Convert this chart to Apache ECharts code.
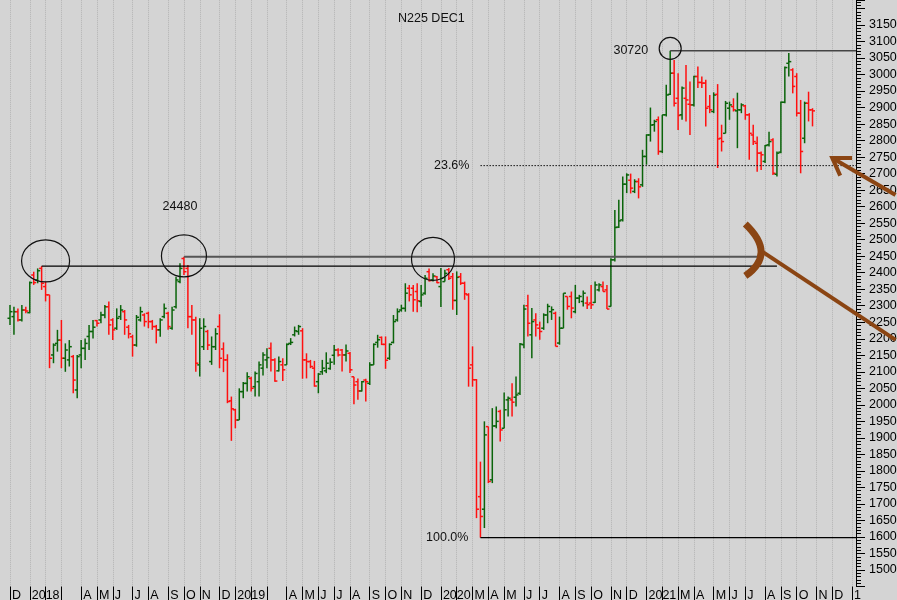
<!DOCTYPE html>
<html><head><meta charset="utf-8">
<script src="https://cdn.jsdelivr.net/npm/echarts@6/dist/echarts.min.js"></script>
<style>html,body{margin:0;padding:0;background:#d4d4d4;}#c{width:897px;height:600px;}</style>
</head><body><div id="c"></div>
<script>
// ---- weekly categories (Friday-dated bars) ----
const firstWeek = '2017-12-01';
const lastWeek = '2022-01-14';
const skippedWeeks = ['2019-05-03'];
const weekMonthOverrides = {'2020-01-03': '2019-12', '2021-01-01': '2020-12'};
const monthLabels = ['D',
  '2018','','','A','M','J','J','A','S','O','N','D',
  '2019','','','A','M','J','J','A','S','O','N','D',
  '2020','','M','A','M','J','J','A','S','O','N','D',
  '2021','','M','A','M','J','J','A','S','O','N','D',
  '1'];

// ---- weekly OHLC ----
const opens = [22620,22670,22820,22570,22870,22790,23930,23780,24130,23580,23330,21510,21860,21960,21410,21360,21460,20450,21510,21710,22070,22220,22550,22570,22720,22970,22570,22320,22670,22820,22350,22060,21810,22570,22720,22770,22520,22370,22270,22670,22770,22320,22970,23730,24430,24130,22670,22570,21210,21760,22220,21310,21760,22370,
21690,21360,20120,19850,19540,20400,20650,20800,20550,20700,21110,21360,21710,21360,21030,21210,21210,21860,22120,22220,22240,21360,21310,21110,20700,21000,21030,21100,21500,21660,21660,21510,21560,20850,20700,20420,20750,20650,21210,21890,22040,21830,21410,21890,22570,22870,22920,23530,23530,23430,23130,23380,24030,23780,23880,
23580,23730,24090,23880,23160,23880,23680,23330,21210,20760,17220,16840,19340,17730,19360,19800,19290,20150,20150,20230,20350,21820,23000,22120,22570,22320,22320,22720,22820,22770,21870,22320,23280,23280,22820,23230,23130,23080,23080,23100,23480,23580,23480,22980,24390,25380,25600,26680,
26800,26460,26760,26660,27520,28170,28480,28630,27670,28780,29400,30040,29280,28780,29280,29100,29080,29940,29760,29740,29030,28880,29400,28070,28220,28980,29030,28900,28930,29050,28780,28170,27920,27620,27370,27870,28020,26980,27650,29160,30340,30140,29940,28830,28070,29130,28930];
const highs = [23020,22970,22920,23020,22970,23730,24030,24130,24200,23730,23330,21860,22270,22570,21860,21960,21510,21510,21960,22010,22420,22570,22570,22820,23020,23130,22620,22920,23020,22870,22420,22120,22720,22970,22770,22820,22570,22420,22620,23070,22820,22970,23880,24290,24480,24230,23020,22670,22620,22620,22270,22070,22320,22740,
21890,21530,20250,19880,20500,20690,20990,20850,21010,21310,21590,21710,21890,21410,21460,21410,21860,22020,22370,22420,22320,21560,21360,21330,20960,21360,21590,21410,21810,21710,21690,21830,21600,20850,20800,20720,20790,21290,21860,22120,22070,22070,21860,22720,22920,23030,23680,23630,23630,23680,23630,23930,24130,23980,23900,
24140,24090,24140,23990,24040,23990,23730,23380,21770,20780,18280,19500,19340,19900,19950,19850,20370,20250,20650,20860,21870,23030,23330,22930,22770,22520,22770,23060,22980,22820,22670,23380,23280,23430,23630,23330,23460,23280,23630,23730,23680,23730,23630,24440,25900,26210,26910,27010,
27000,26830,26860,27720,28190,29000,28630,28730,28780,29690,30720,30440,30040,29640,30290,29790,29960,30240,29940,29840,29380,29460,29710,28480,29200,29180,29280,29450,29130,29080,28830,28480,28120,27670,27870,28270,28070,27670,29180,30240,30650,30190,30040,29230,29180,29480,28980];
const lows = [22420,22120,22520,22520,22770,22770,23630,23680,23480,23130,21110,21260,21610,21110,21000,21160,20350,20200,21110,21360,21660,22010,22370,22470,22620,22120,21960,22270,22570,22120,22010,21460,21760,22520,22370,22320,22270,21860,22060,22620,22270,22270,22920,23680,23930,22320,22120,21000,20860,21660,21660,21210,21660,21110,
20990,20050,18910,19290,19540,20200,20400,20400,20250,20250,20890,21110,21010,20700,21010,20720,21210,21810,22070,22120,20790,20800,21110,20550,20350,20910,20960,21060,21210,21460,21010,21310,20960,20020,20150,20400,20100,20600,21210,21730,21810,21090,21360,21860,22520,22820,22820,23130,22820,22800,22970,23330,23730,23730,23680,
22960,23730,23780,22880,22720,23630,23180,20550,20550,16570,15980,16270,17630,17630,19290,18890,19290,19650,19650,19950,20300,21710,22070,21410,22070,21970,22270,22470,22570,21770,21820,22320,22880,22620,22770,23080,22980,22900,22900,23080,23430,23430,22900,22980,24340,25350,25550,26410,
26400,26410,26250,26600,27270,27970,28270,27570,27620,28730,29380,29030,28320,28630,28580,28170,29030,29590,29590,28430,28830,28830,27170,27670,28220,28630,28880,27770,28830,28630,27420,27870,27060,27110,27320,27820,26960,26910,27620,29130,29940,29430,28730,27010,27920,28580,28430];
const closes = [22820,22820,22570,22870,22840,23700,23700,24060,23680,23330,21410,21810,21960,21410,21660,21760,20750,21460,21710,21860,22220,22350,22470,22720,22970,22420,22270,22620,22870,22570,22150,21810,22650,22820,22520,22520,22370,22270,22570,22920,22370,22870,23780,24130,24030,22670,22570,21260,22320,22370,21810,21760,22150,21410,
21360,20100,19880,19540,20400,20650,20850,20500,20950,21210,21510,21430,21360,20720,21310,21060,21830,21890,22240,22370,21360,21310,21160,20570,20930,21110,21260,21290,21660,21510,21510,21630,21060,20600,20420,20700,20700,21210,21830,21970,21830,21350,21830,22520,22820,22920,23380,23330,23180,23150,23330,23830,23760,23900,23700,
23830,23980,23830,23160,23860,23680,23360,21110,20760,16840,16620,19090,17680,19360,19500,19240,19850,20200,20080,20300,21840,22900,22470,22520,22420,22220,22720,22980,22880,21770,22320,23380,22980,22930,23230,23280,23380,23030,23030,23630,23630,23430,22900,24390,25370,25570,26680,26960,
26560,26760,26600,27520,28170,28470,28580,27670,28780,29380,30040,29130,28760,29590,29230,29080,29940,29760,29740,28980,28930,29380,28050,27970,29130,29080,28930,28930,29080,28780,28220,27970,27620,27570,27850,27970,27010,27620,29160,30210,30390,29640,28830,27670,29130,28930,28900];

// ---- annotation levels (prices) ----
const peakPrice = 30720;
const octPeak2018 = 24480;
const janPeak2018 = 24200;
const lowPrice = 15980;
const fib236 = peakPrice - 0.236 * (peakPrice - lowPrice);

// ---- build weeks ----
function ymd(d){return d.toISOString().slice(0,10);}
const weeks = [];
const weekMonth = [];
for (let d = new Date(firstWeek + 'T00:00:00Z'); ymd(d) <= lastWeek; d = new Date(d.getTime() + 7*86400000)) {
  const s = ymd(d);
  if (skippedWeeks.includes(s)) continue;
  weeks.push(s);
  weekMonth.push(weekMonthOverrides[s] || s.slice(0,7));
}
const labelByIndex = {};
let m = 0;
for (let i = 0; i < weeks.length; i++) {
  if (i === 0 || weekMonth[i] !== weekMonth[i-1]) {
    if (m < monthLabels.length) labelByIndex[i] = monthLabels[m];
    m++;
  }
}
const isMonthStart = (idx) => Object.prototype.hasOwnProperty.call(labelByIndex, idx);

const ohlc = opens.map((o, i) => [i, o, highs[i], lows[i], closes[i]]);
const week = (s) => weeks.indexOf(s);

const GREEN = '#0a640a', RED = '#ff1010', BROWN = '#8b4513';
const FAMILY = "'Liberation Sans', Arial, sans-serif";
const FONT = "12.5px " + FAMILY;

const chart = echarts.init(document.getElementById('c'), null, {renderer: 'canvas'});
chart.setOption({
  animation: false,
  backgroundColor: '#d4d4d4',
  title: {text: 'N225 DEC1', left: 393, top: 7,
    textStyle: {fontSize: 12.5, fontWeight: 'normal', color: '#111', fontFamily: FAMILY}},
  grid: {left: 10, right: 41, top: 0.2, bottom: 13.5, containLabel: false, outerBoundsMode: 'none'},
  xAxis: {
    type: 'category', data: weeks, boundaryGap: false,
    axisLine: {show: false},
    axisTick: {show: true, interval: (i) => isMonthStart(i), length: 14, lineStyle: {color: '#000', width: 1}},
    axisLabel: {interval: (i) => isMonthStart(i), formatter: (v, i) => labelByIndex[i] || '',
      align: 'left', padding: [0,0,0,2], margin: 3, fontSize: 12.5, color: '#000', fontFamily: FAMILY},
    splitLine: {show: true, interval: (i) => isMonthStart(i), lineStyle: {type: 'dotted', color: '#b4b4b4', width: 1}}
  },
  yAxis: {
    type: 'value', position: 'right', min: 14500, max: 32250, interval: 500,
    axisLine: {show: true, lineStyle: {color: '#000', width: 1}},
    axisTick: {show: true, length: 9, lineStyle: {color: '#000'}},
    minorTick: {show: true, splitNumber: 5, length: 5, lineStyle: {color: '#000'}},
    splitLine: {show: false},
    axisLabel: {margin: 13, fontSize: 12.5, color: '#000', fontFamily: FAMILY,
      formatter: (v) => (v >= 15000 && v <= 31500) ? String(v) : ''}
  },
  series: [
    {
      type: 'custom', name: 'N225 DEC1', clip: false,
      encode: {x: 0, y: [1,2,3,4]},
      data: ohlc,
      renderItem: (params, api) => {
        const k = api.value(0);
        const o = api.value(1), h = api.value(2), l = api.value(3), c = api.value(4);
        const pH = api.coord([k, h]), pL = api.coord([k, l]), pO = api.coord([k, o]), pC = api.coord([k, c]);
        const col = c >= o ? GREEN : RED;
        const st = {stroke: col, lineWidth: 1.5};
        return {type: 'group', children: [
          {type: 'line', shape: {x1: pH[0], y1: pH[1], x2: pL[0], y2: pL[1]}, style: st},
          {type: 'line', shape: {x1: pO[0]-2.5, y1: pO[1], x2: pO[0], y2: pO[1]}, style: st},
          {type: 'line', shape: {x1: pC[0], y1: pC[1], x2: pC[0]+2.5, y2: pC[1]}, style: st}
        ]};
      }
    },
    {
      type: 'custom', name: 'annotations', clip: false, silent: true,
      data: [[0, 0]],
      renderItem: (params, api) => {
        const last = weeks.length - 1;
        const kLow = week('2020-03-20'), kPeak = week('2021-02-19');
        const kJan = week('2018-01-26'), kOct = week('2018-10-05');
        const P = (k, v) => api.coord([k, v]);
        const hline = (k1, k2, v, stroke, w, dash) => {
          const a = P(k1, v), b = P(k2, v);
          return {type: 'line', shape: {x1: a[0], y1: a[1], x2: b[0], y2: b[1]},
            style: {stroke, lineWidth: w, lineDash: dash || null}};
        };
        const ell = (k, v, rx, ry) => {
          const c = P(k, v);
          return {type: 'path', shape: {pathData:
            `M${c[0]-rx},${c[1]} A${rx},${ry} 0 1,0 ${c[0]+rx},${c[1]} A${rx},${ry} 0 1,0 ${c[0]-rx},${c[1]} Z`},
            style: {fill: null, stroke: '#111', lineWidth: 1.2}};
        };
        const txt = (k, v, dx, dy, text, align) => {
          const c = P(k, v);
          return {type: 'text', x: c[0] + dx, y: c[1] + dy,
            style: {text, fill: '#111', font: FONT, align, verticalAlign: 'middle'}};
        };
        const pLine = (pts, w) => ({type: 'polyline', shape: {points: pts.map(p => P(p[0], p[1]))},
          style: {stroke: BROWN, lineWidth: w, fill: null, lineCap: 'butt', lineJoin: 'miter'}});
        const b0 = P(186.4, 25477), bc = P(194.3, 24568), b1 = P(185.9, 23902);
        return {type: 'group', children: [
          hline(kJan, 193.5, janPeak2018, '#000', 1.2),
          hline(kOct, 188.5, octPeak2018, '#555', 2),
          hline(kPeak, last, peakPrice, '#444', 1.5),
          hline(kLow, last, fib236, '#111', 1, [1.5, 1.5]),
          hline(kLow, last, lowPrice, '#000', 1.3),
          ell(8.85, 24357, 24, 21),
          ell(44.3, 24508, 22.5, 21),
          ell(107.0, 24417, 21.5, 21.5),
          ell(166.8, 30791, 11, 11),
          txt(kPeak, peakPrice, -22, 0, String(peakPrice), 'right'),
          txt(kOct - 1, octPeak2018, 0, -50, String(octPeak2018), 'center'),
          txt(kLow, fib236, -11, 0, '23.6%', 'right'),
          txt(kLow, lowPrice, -12, 0, '100.0%', 'right'),
          {type: 'bezierCurve', shape: {x1: b0[0], y1: b0[1], cpx1: bc[0], cpy1: bc[1], x2: b1[0], y2: b1[1]},
            style: {stroke: BROWN, lineWidth: 7, fill: null}},
          pLine([[190.2, 24659], [224.4, 21964]], 4),
          pLine([[212.8, 27475], [207.7, 27475], [210.1, 26939]], 4),
          pLine([[207.7, 27475], [224.4, 26355]], 4)
        ]};
      }
    }
  ]
});
</script>
</body></html>
